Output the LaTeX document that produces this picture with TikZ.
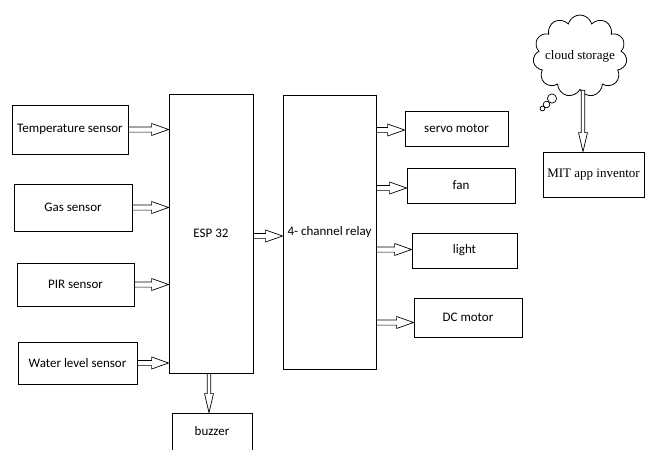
\documentclass[tikz,border=0pt]{standalone}
\usepackage{fontspec}
\setmainfont{Carlito}
\newfontfamily\timesfont{Liberation Serif}
\usetikzlibrary{calc,shapes.symbols}
\def\arsw{2.6}
\def\arhw{6}
\def\arhl{17}
\def\vasw{1.8}
\def\vahw{4.5}
\def\vahl{19}
\newcommand\harr[2]{\draw[arrline] ($(#1)+(0,-\arsw)$) -- ($(#2)+(-\arhl,-\arsw)$) -- ($(#2)+(-\arhl,-\arhw)$) -- (#2) -- ($(#2)+(-\arhl,\arhw)$) -- ($(#2)+(-\arhl,\arsw)$) -- ($(#1)+(0,\arsw)$) -- cycle;}
\newcommand\varr[2]{\draw[arrline] ($(#1)+(-\vasw,0)$) -- ($(#2)+(-\vasw,-\vahl)$) -- ($(#2)+(-\vahw,-\vahl)$) -- (#2) -- ($(#2)+(\vahw,-\vahl)$) -- ($(#2)+(\vasw,-\vahl)$) -- ($(#1)+(\vasw,0)$) -- cycle;}
\begin{document}
\begin{tikzpicture}[x=1pt,y=-1pt,
  box/.style={draw, rectangle, inner sep=0pt, line width=0.8pt, font=\fontsize{13}{15}\selectfont},
  arrline/.style={draw, fill=white, line width=0.7pt, line join=miter},
  cloudshape/.style={draw, cloud, cloud puffs=11, cloud ignores aspect, inner sep=0pt, line width=0.8pt, font=\timesfont\fontsize{13}{15}\selectfont}]
\clip (0,0) rectangle (646,450);
\fill[white] (0,0) rectangle (646,450);
% left sensors
\node[box, minimum width=116, minimum height=49] (temp) at (70,129.5) {\raisebox{3pt}{Temperature sensor}};
\node[box, minimum width=118, minimum height=47] (gas) at (73,207.5) {\raisebox{-5pt}{Gas sensor}\hspace{34pt}};
\node[box, minimum width=117, minimum height=43] (pir) at (75.5,284.5) {\raisebox{-5pt}{PIR sensor}\hspace{13pt}};
\node[box, minimum width=119, minimum height=42] (water) at (77.5,363) {\raisebox{-5pt}{Water level sensor}};
% controller
\node[box, minimum width=84, minimum height=279] (esp) at (211,233.5) {\raisebox{-3pt}{ESP 32}\hspace{8pt}};
\node[box, minimum width=80, minimum height=47] (buzzer) at (212,436.5) {\raisebox{11pt}{buzzer}\hspace{34pt}};
\node[box, minimum width=93, minimum height=274] (relay) at (329.5,232) {\raisebox{-8pt}{4- channel relay}};
% outputs
\node[box, minimum width=103, minimum height=35] (servo) at (456.5,128.5) {\raisebox{-5pt}{servo motor}\hspace{15pt}};
\node[box, minimum width=108, minimum height=35] (fan) at (461,185.5) {\raisebox{-3pt}{fan}\hspace{7pt}};
\node[box, minimum width=105, minimum height=35] (light) at (464.5,250.5) {light\hspace{12pt}};
\node[box, minimum width=108, minimum height=39] (dc) at (468,317.5) {DC motor\hspace{8pt}};
% cloud + app
\node[cloudshape, minimum width=94, minimum height=82] (cloud) at (580,56) {\makebox[0pt]{cloud storage}};
\node[box, font=\timesfont\fontsize{13}{15}\selectfont, minimum width=101, minimum height=45] (mit) at (593.5,174.5) {MIT app inventor};
\draw[line width=0.7pt] (552,98.5) circle (4.6);
\draw[line width=0.7pt] (546.5,104.5) circle (3.3);
\draw[line width=0.7pt] (542.5,108.5) circle (2.4);
% arrows
\coordinate (a1) at (esp.west |- temp.east);
\coordinate (a2) at (esp.west |- gas.east);
\coordinate (a3) at (esp.west |- pir.east);
\coordinate (a4) at (esp.west |- water.east);
\harr{temp.east}{a1}
\harr{gas.east}{a2}
\harr{pir.east}{a3}
\harr{water.east}{a4}
\coordinate (e1) at ($(esp.east)+(0,2.5)$);
\coordinate (e2) at (relay.west |- e1);
\harr{e1}{e2}
\coordinate (o1) at ($(servo.west)+(0,1.5)$);
\coordinate (o2) at ($(fan.west)+(0,2.5)$);
\coordinate (o3) at ($(light.west)+(0,-1)$);
\coordinate (o4) at ($(dc.west)+(0,5)$);
\coordinate (r1) at (relay.east |- o1);
\coordinate (r2) at (relay.east |- o2);
\coordinate (r3) at (relay.east |- o3);
\coordinate (r4) at (relay.east |- o4);
\harr{r1}{o1}
\harr{r2}{o2}
\harr{r3}{o3}
\harr{r4}{o4}
\coordinate (b1) at ($(esp.south)+(-2,0)$);
\coordinate (b2) at (b1 |- buzzer.north);
\varr{b1}{b2}
\coordinate (c1) at ($(cloud.south)+(3,0)$);
\coordinate (c2) at (c1 |- mit.north);
\varr{c1}{c2}
\end{tikzpicture}
\end{document}
